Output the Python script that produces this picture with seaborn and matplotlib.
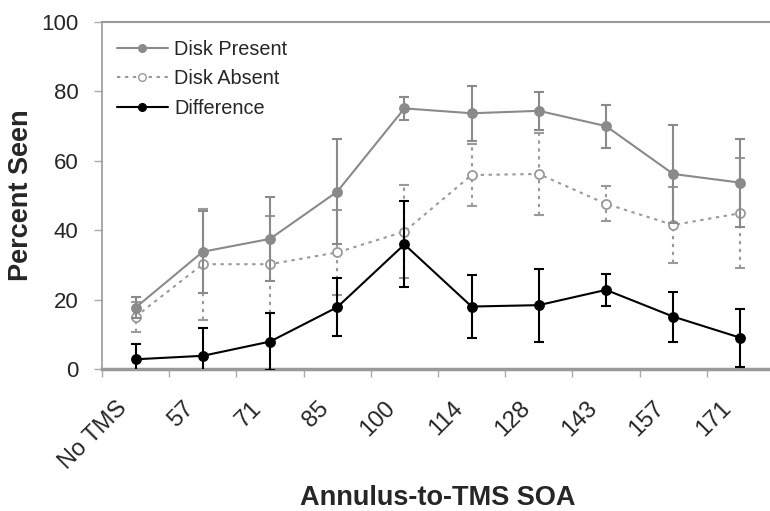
import numpy as np
import pandas as pd
import matplotlib
matplotlib.use("Agg")
import matplotlib.pyplot as plt
import matplotlib.transforms as mtransforms
import seaborn as sns
from matplotlib.lines import Line2D
from matplotlib.ticker import FixedLocator

categories = ["No TMS", "57", "71", "85", "100", "114", "128", "143", "157", "171"]
present = [17.7, 33.8, 37.5, 51.1, 75.1, 73.7, 74.4, 70.0, 56.2, 53.7]
present_err = [3.0, 11.8, 12.0, 15.2, 3.3, 8.0, 5.5, 6.2, 14.0, 12.7]
absent = [15.1, 30.2, 30.2, 33.6, 39.6, 55.9, 56.2, 47.6, 41.5, 44.9]
absent_err = [4.3, 16.0, 14.0, 12.3, 13.3, 8.9, 11.7, 5.0, 11.0, 15.8]
difference = [2.8, 3.8, 7.9, 17.8, 35.9, 18.0, 18.4, 22.8, 15.1, 9.0]
difference_err = [4.5, 7.9, 8.2, 8.4, 12.4, 9.2, 10.5, 4.7, 7.2, 8.3]

sns.set_theme(style="white")
plt.rcParams["font.family"] = ["Liberation Sans", "DejaVu Sans"]

pos = np.arange(len(categories))
df = pd.DataFrame({
    "pos": np.concatenate([pos, pos, pos]),
    "value": present + absent + difference,
    "err": present_err + absent_err + difference_err,
    "series": ["Disk Present"] * 10 + ["Disk Absent"] * 10 + ["Difference"] * 10,
})

fig = plt.figure(figsize=(7.7, 5.11), dpi=100)
W, H = 770, 511
ax = fig.add_axes([102 / W, (H - 369) / H, 672 / W, 347 / H])

dotted = (0, (1.6, 2.2))
styles = {
    "Disk Absent": dict(color="#9a9a9a", mfc="white", ls=dotted, z=2),
    "Disk Present": dict(color="#8a8a8a", mfc="#8a8a8a", ls="-", z=3),
    "Difference": dict(color="#000000", mfc="#000000", ls="-", z=4),
}

for name in ["Disk Absent", "Disk Present", "Difference"]:
    st = styles[name]
    sub = df[df["series"] == name]
    eb = ax.errorbar(sub["pos"], sub["value"], yerr=sub["err"], fmt="none",
                     ecolor=st["color"], elinewidth=1.5, capsize=3.3, capthick=1.5,
                     zorder=st["z"])
    for lc in eb[2]:
        lc.set_linestyle(st["ls"])
    sns.lineplot(data=sub, x="pos", y="value", ax=ax, color=st["color"],
                 linestyle=st["ls"], linewidth=1.5, marker="o", markersize=6.5,
                 markerfacecolor=st["mfc"], markeredgecolor=st["color"],
                 markeredgewidth=1.3, zorder=st["z"] + 0.5, legend=False)

ax.set_xlim(-0.5, len(categories) - 0.5)
ax.set_ylim(0, 100)
ax.set_yticks([0, 20, 40, 60, 80, 100])
ax.set_xticks(pos)
ax.set_xticklabels(categories, rotation=45, ha="right", rotation_mode="anchor",
                   fontsize=17)
ax.xaxis.set_minor_locator(FixedLocator(np.arange(-0.5, len(categories), 1.0)))
ax.tick_params(axis="x", which="major", length=0, pad=14)
ax.tick_params(axis="x", which="minor", length=6, color="#aaaaaa", width=1, direction="out", bottom=True)
ax.tick_params(axis="y", labelsize=16, length=6, color="#aaaaaa", width=1, direction="out", left=True, pad=11)
offset = mtransforms.ScaledTranslation(-20 / 100, -9 / 100, fig.dpi_scale_trans)
for lab in ax.xaxis.get_majorticklabels():
    lab.set_transform(lab.get_transform() + offset)
for s in ["left", "top", "bottom", "right"]:
    ax.spines[s].set_color("#999999")
    ax.spines[s].set_linewidth(1.5)
ax.spines["bottom"].set_linewidth(2.5)
ax.spines["left"].set_linewidth(1.2)
ax.spines["right"].set_visible(False)

ax.set_xlabel("Annulus-to-TMS SOA", fontsize=19.5, fontweight="bold")
ax.xaxis.label.set_va("bottom")
ax.xaxis.set_label_coords(0.5, 0.5 / H, transform=mtransforms.blended_transform_factory(ax.transAxes, fig.transFigure))
ax.set_ylabel("Percent Seen", fontsize=19.5, fontweight="bold", labelpad=5)

handles = [
    Line2D([], [], color="#8a8a8a", ls="-", lw=1.5, marker="o", ms=5.5,
           mfc="#8a8a8a", mec="#8a8a8a"),
    Line2D([], [], color="#9a9a9a", ls=dotted, lw=1.5, marker="o", ms=5.5,
           mfc="white", mec="#9a9a9a"),
    Line2D([], [], color="#000000", ls="-", lw=1.5, marker="o", ms=5.5,
           mfc="#000000", mec="#000000"),
]
ax.legend(handles, ["Disk Present", "Disk Absent", "Difference"], loc="upper left",
          bbox_to_anchor=(-0.005, 1.0), frameon=False, fontsize=14.3, handlelength=2.6,
          handletextpad=0.3, labelspacing=0.52)

fig.savefig("out.png", dpi=100)
